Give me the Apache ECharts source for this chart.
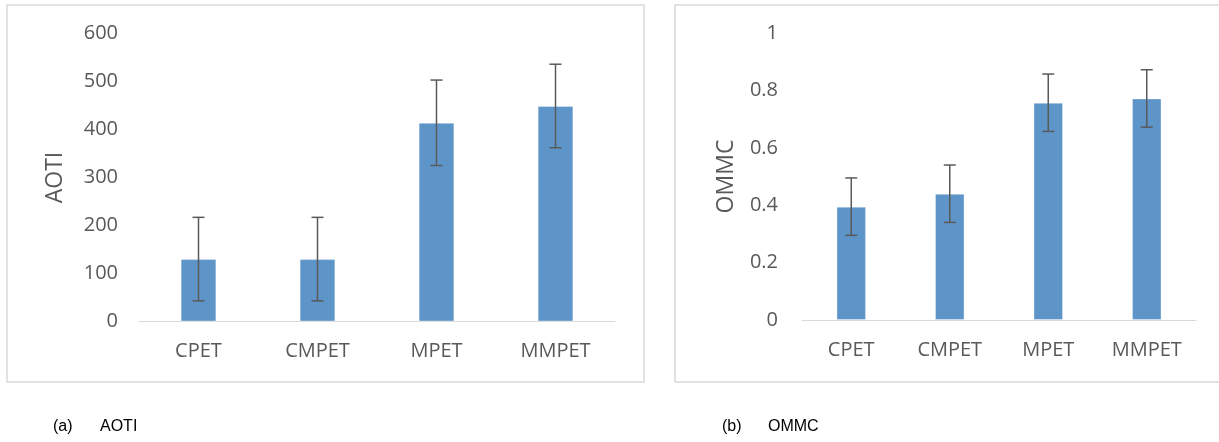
<!DOCTYPE html>
<html>
<head>
<meta charset="utf-8">
<script src="https://cdn.jsdelivr.net/npm/echarts@6/dist/echarts.min.js"></script>
<style>
html,body{margin:0;padding:0;background:#fff;}
#chart{width:1219px;height:442px;}
</style>
</head>
<body>
<div id="chart"></div>
<script>
const categories = ['CPET', 'CMPET', 'MPET', 'MMPET'];
const aotiMeans = [130, 130, 414, 449];
const aotiErr = [87, 87, 89, 87];
const ommcMeans = [0.395, 0.44, 0.757, 0.772];
const ommcErr = [0.1, 0.1, 0.1, 0.1];
const aotiTicks = { min: 0, max: 600, interval: 100 };
const ommcTicks = { min: 0, max: 1, interval: 0.2 };

const tickColor = '#595959';
const fontFam = '"Open Sans", "Noto Sans", sans-serif';

function errData(means, errs) {
  return means.map((m, i) => [i, m - errs[i], m + errs[i]]);
}
function errRender(params, api) {
  const x = api.value(0);
  const lo = api.coord([x, api.value(1)]);
  const hi = api.coord([x, api.value(2)]);
  const hw = 6;
  const style = { stroke: '#595959', lineWidth: 1.5 };
  return {
    type: 'group',
    children: [
      { type: 'line', shape: { x1: hi[0], y1: hi[1], x2: lo[0], y2: lo[1] }, style },
      { type: 'line', shape: { x1: hi[0] - hw, y1: hi[1], x2: hi[0] + hw, y2: hi[1] }, style },
      { type: 'line', shape: { x1: lo[0] - hw, y1: lo[1], x2: lo[0] + hw, y2: lo[1] }, style }
    ]
  };
}

const xAxisCommon = {
  type: 'category',
  data: categories,
  axisLine: { lineStyle: { color: '#d9d9d9', width: 1 } },
  axisTick: { show: false },
  axisLabel: { color: tickColor, fontSize: 20, fontFamily: fontFam, margin: 20 },
  splitLine: { show: false }
};
const yAxisCommon = {
  type: 'value',
  axisLine: { show: false },
  axisTick: { show: false },
  splitLine: { show: false },
  nameLocation: 'middle',
  nameRotate: 90,
  nameTextStyle: { color: tickColor, fontSize: 23, fontFamily: fontFam }
};

const chart = echarts.init(document.getElementById('chart'), null, { renderer: 'canvas' });
chart.setOption({
  animation: false,
  backgroundColor: '#fff',
  grid: [
    { left: 139, top: 33.5, width: 476, height: 288 },
    { left: 802, top: 33, width: 394, height: 287 }
  ],
  xAxis: [
    Object.assign({ gridIndex: 0 }, xAxisCommon),
    Object.assign({ gridIndex: 1 }, xAxisCommon)
  ],
  yAxis: [
    Object.assign({}, yAxisCommon, {
      gridIndex: 0, min: aotiTicks.min, max: aotiTicks.max, interval: aotiTicks.interval,
      name: 'AOTI', nameGap: 72,
      axisLabel: { color: tickColor, fontSize: 20, fontFamily: fontFam, margin: 21 }
    }),
    Object.assign({}, yAxisCommon, {
      gridIndex: 1, min: ommcTicks.min, max: ommcTicks.max, interval: ommcTicks.interval,
      name: 'OMMC', nameGap: 64,
      axisLabel: { color: tickColor, fontSize: 20, fontFamily: fontFam, margin: 24 }
    })
  ],
  series: [
    {
      type: 'bar', xAxisIndex: 0, yAxisIndex: 0, data: aotiMeans, barWidth: '30%',
      itemStyle: { color: '#5e95c9', borderColor: 'rgba(255,255,255,0.35)', borderWidth: 1 }
    },
    {
      type: 'custom', xAxisIndex: 0, yAxisIndex: 0, data: errData(aotiMeans, aotiErr),
      renderItem: errRender, z: 10
    },
    {
      type: 'bar', xAxisIndex: 1, yAxisIndex: 1, data: ommcMeans, barWidth: '30%',
      itemStyle: { color: '#5e95c9', borderColor: 'rgba(255,255,255,0.35)', borderWidth: 1 }
    },
    {
      type: 'custom', xAxisIndex: 1, yAxisIndex: 1, data: errData(ommcMeans, ommcErr),
      renderItem: errRender, z: 10
    }
  ],
  graphic: [
    { type: 'rect', shape: { x: 7, y: 5, width: 637, height: 377 },
      style: { fill: 'none', stroke: '#d9d9d9', lineWidth: 1.5 }, z: -1 },
    { type: 'rect', shape: { x: 675, y: 5, width: 560, height: 377 },
      style: { fill: 'none', stroke: '#d9d9d9', lineWidth: 1.5 }, z: -1 },
    { type: 'text', left: 53, top: 419,
      style: { text: '(a)', fill: '#000', font: '16px "Liberation Sans", Arial, sans-serif' } },
    { type: 'text', left: 100, top: 419,
      style: { text: 'AOTI', fill: '#000', font: '16px "Liberation Sans", Arial, sans-serif' } },
    { type: 'text', left: 722, top: 419,
      style: { text: '(b)', fill: '#000', font: '16px "Liberation Sans", Arial, sans-serif' } },
    { type: 'text', left: 768, top: 419,
      style: { text: 'OMMC', fill: '#000', font: '16px "Liberation Sans", Arial, sans-serif' } }
  ]
});
</script>
</body>
</html>
